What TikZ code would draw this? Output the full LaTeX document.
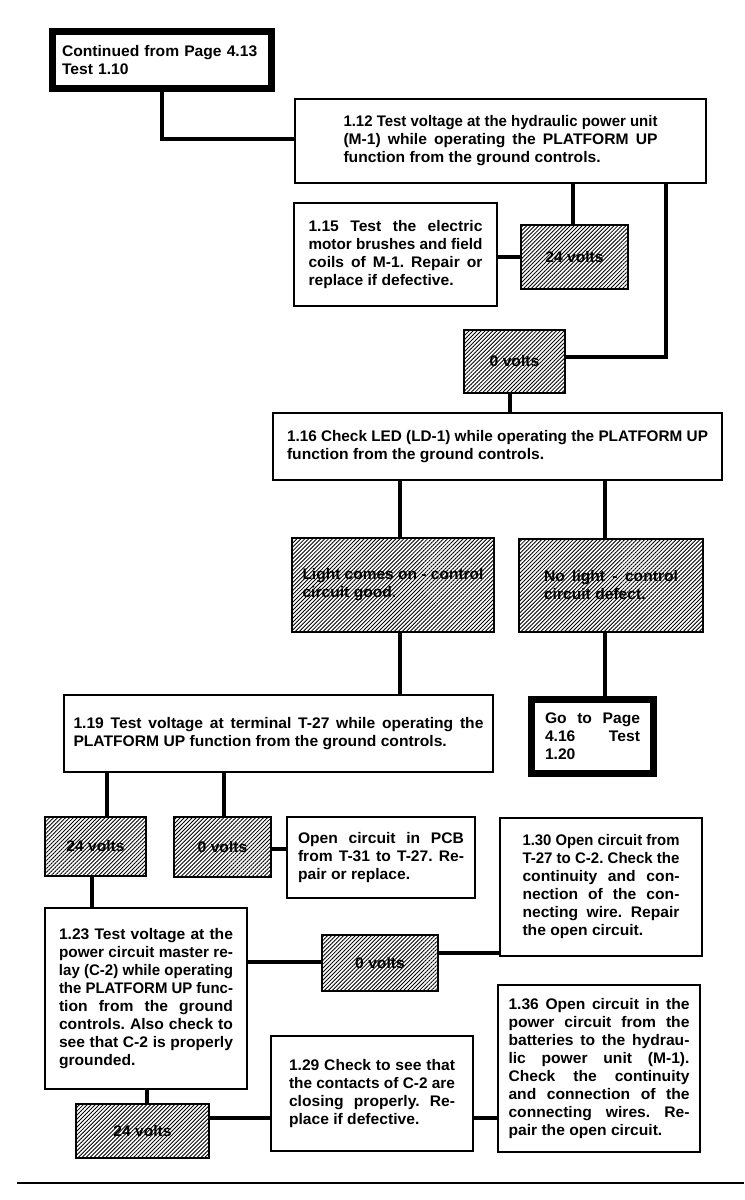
\documentclass[tikz,border=0pt]{standalone}
\usepackage{fontspec}
\setmainfont{Liberation Sans}[FakeStretch=1.02]
\usepackage{graphicx}
\usetikzlibrary{patterns.meta,calc}
\newcommand\mytxt{\fontsize{11.5}{13.5}\selectfont\bfseries\frenchspacing}
\newlength\jlw
\newcommand\jl[1]{{\spaceskip=0pt\xspaceskip=0pt\settowidth\jlw{#1}%
  \ifdim\jlw>\linewidth\pgfmathsetmacro\jlr{\linewidth/\jlw}\scalebox{\jlr}[1]{#1}%
  \else\makebox[\linewidth][s]{#1}\fi}\\}
\newcommand\jlast[1]{{\spaceskip=0pt\xspaceskip=0pt\settowidth\jlw{#1}%
  \ifdim\jlw>\linewidth\pgfmathsetmacro\jlr{\linewidth/\jlw}\scalebox{\jlr}[1]{#1}%
  \else #1\fi}}
\tikzset{
  place/.style n args={4}{at={({(#1+#3)/2},{(#2+#4)/2})},
    minimum width={(#3-#1)*0.75pt}, minimum height={(#4-#2)*0.75pt}},
  box/.style={draw, line width=1.4pt, fill=white, inner sep=0pt, align=left, font=\mytxt},
  thickbox/.style={draw, line width=5pt, fill=white, inner sep=0pt, align=left, font=\mytxt},
  hatchbox/.style={draw, line width=1.4pt, inner sep=0pt, align=left, font=\mytxt,
    pattern={Lines[angle=45,distance=2.1pt,line width=0.65pt]}, pattern color=black},
  conn/.style={line width=2.4pt}
}
\begin{document}
\begin{tikzpicture}[x=0.75pt,y=-0.75pt]
\useasboundingbox (0,0) rectangle (744,1200);
% boxes
\node[thickbox, place={52.3}{31.3}{271.7}{88.7}, text width=150pt] (cont)
  {Continued from Page 4.13\\Test 1.10};
\node[box, place={295}{99}{706}{183}, text width=235.5pt] (t112)
  {\jl{1.12 Test voltage at the hydraulic power unit}\jl{(M-1) while operating the PLATFORM UP}\jlast{function from the ground controls.}};
\node[box, place={294}{203}{497}{306}, text width=130.5pt] (t115)
  {\jl{1.15 Test the electric}\jl{motor brushes and field}\jl{coils of M-1. Repair or}\jlast{replace if defective.}};
\node[hatchbox, place={521}{225}{628}{289}] (v24a) {24 volts};
\node[hatchbox, place={464}{330}{565}{393}] (v0a) {0 volts};
\node[box, place={273}{413}{722}{480}, text width=315.75pt] (t116)
  {\jl{1.16 Check LED (LD-1) while operating the PLATFORM UP}\jlast{function from the ground controls.}};
\node[hatchbox, place={292}{538}{494}{632}, text width=135.75pt] (light)
  {\jl{Light comes on - control}\jlast{circuit good.}};
\node[hatchbox, place={519}{539}{703}{632}, text width=100.5pt] (nolight)
  {\jl{No light - control}\jlast{circuit defect.}};
\node[box, place={64}{695}{493}{772}, text width=307.5pt] (t119)
  {\jl{1.19 Test voltage at terminal T-27 while operating the}\jlast{PLATFORM UP function from the ground controls.}};
\node[thickbox, place={531.3}{699.3}{653.7}{773.7}, text width=71.25pt] (goto)
  {\jl{Go to Page}\jl{4.16 Test}\jlast{1.20}};
\node[hatchbox, place={45}{817}{146}{876}] (v24b) {24 volts};
\node[hatchbox, place={174}{817}{271}{877}] (v0b) {0 volts};
\node[box, place={287}{817}{475}{898}, text width=124.5pt] (open)
  {\jl{Open circuit in PCB}\jl{from T-31 to T-27. Re-}\jlast{pair or replace.}};
\node[box, place={500}{818}{702}{956}, text width=117.75pt] (t130)
  {\jl{1.30 Open circuit from}\jl{T-27 to C-2. Check the}\jl{continuity and con-}\jl{nection of the con-}\jl{necting wire. Repair}\jlast{the open circuit.}};
\node[box, place={45}{908}{247}{1089}, text width=130.5pt] (t123)
  {\jl{1.23 Test voltage at the}\jl{power circuit master re-}\jl{lay (C-2) while operating}\jl{the PLATFORM UP func-}\jl{tion from the ground}\jl{controls. Also check to}\jl{see that C-2 is properly}\jlast{grounded.}};
\node[hatchbox, place={322}{935}{438}{991}] (v0c) {0 volts};
\node[hatchbox, place={76}{1104}{209}{1158}] (v24d) {24 volts};
\node[box, place={271}{1036}{473}{1151}, text width=124.5pt] (t129)
  {\jl{1.29 Check to see that}\jl{the contacts of C-2 are}\jl{closing properly. Re-}\jlast{place if defective.}};
\node[box, place={498}{985}{700}{1152}, text width=135.75pt] (t136)
  {\jl{1.36 Open circuit in the}\jl{power circuit from the}\jl{batteries to the hydrau-}\jl{lic power unit (M-1).}\jl{Check the continuity}\jl{and connection of the}\jl{connecting wires. Re-}\jlast{pair the open circuit.}};
% guide coordinates
\coordinate (kA) at (573,0);
\coordinate (k1) at (666,0);
\coordinate (kB) at (510,0);
\coordinate (kC) at (400,0);
\coordinate (kD) at (605,0);
\coordinate (kF) at (107,0);
\coordinate (kG) at (224,0);
\coordinate (kH) at (92,0);
\coordinate (kI) at (147,0);
\coordinate (h0) at (0,139);
\coordinate (hA) at (0,257);
\coordinate (hB) at (0,357);
\coordinate (hC) at (0,849);
\coordinate (hD) at (0,962);
\coordinate (hE) at (0,953);
\coordinate (hF) at (0,1118);
\coordinate (r1) at (17,1183);
\coordinate (r2) at (744,1183);
% connectors
\draw[conn] (cont.south) |- (t112.west |- h0);
\draw[conn] (t112.south -| kA) -- (v24a.north -| kA);
\draw[conn] (t112.south -| k1) |- (v0a.east |- hB);
\draw[conn] (t115.east |- hA) -- (v24a.west |- hA);
\draw[conn] (v0a.south -| kB) -- (t116.north -| kB);
\draw[conn] (t116.south -| kC) -- (light.north -| kC);
\draw[conn] (t116.south -| kD) -- (nolight.north -| kD);
\draw[conn] (light.south -| kC) -- (t119.north -| kC);
\draw[conn] (nolight.south -| kD) -- (goto.north -| kD);
\draw[conn] (t119.south -| kF) -- (v24b.north -| kF);
\draw[conn] (t119.south -| kG) -- (v0b.north -| kG);
\draw[conn] (v0b.east |- hC) -- (open.west |- hC);
\draw[conn] (v24b.south -| kH) -- (t123.north -| kH);
\draw[conn] (t123.east |- hD) -- (v0c.west |- hD);
\draw[conn] (v0c.east |- hE) -- (t130.west |- hE);
\draw[conn] (t123.south -| kI) -- (v24d.north -| kI);
\draw[conn] (v24d.east |- hF) -- (t129.west |- hF);
\draw[conn] (t129.east |- hF) -- (t136.west |- hF);
\draw[line width=1.6pt] (r1) -- (r2);
\end{tikzpicture}
\end{document}
